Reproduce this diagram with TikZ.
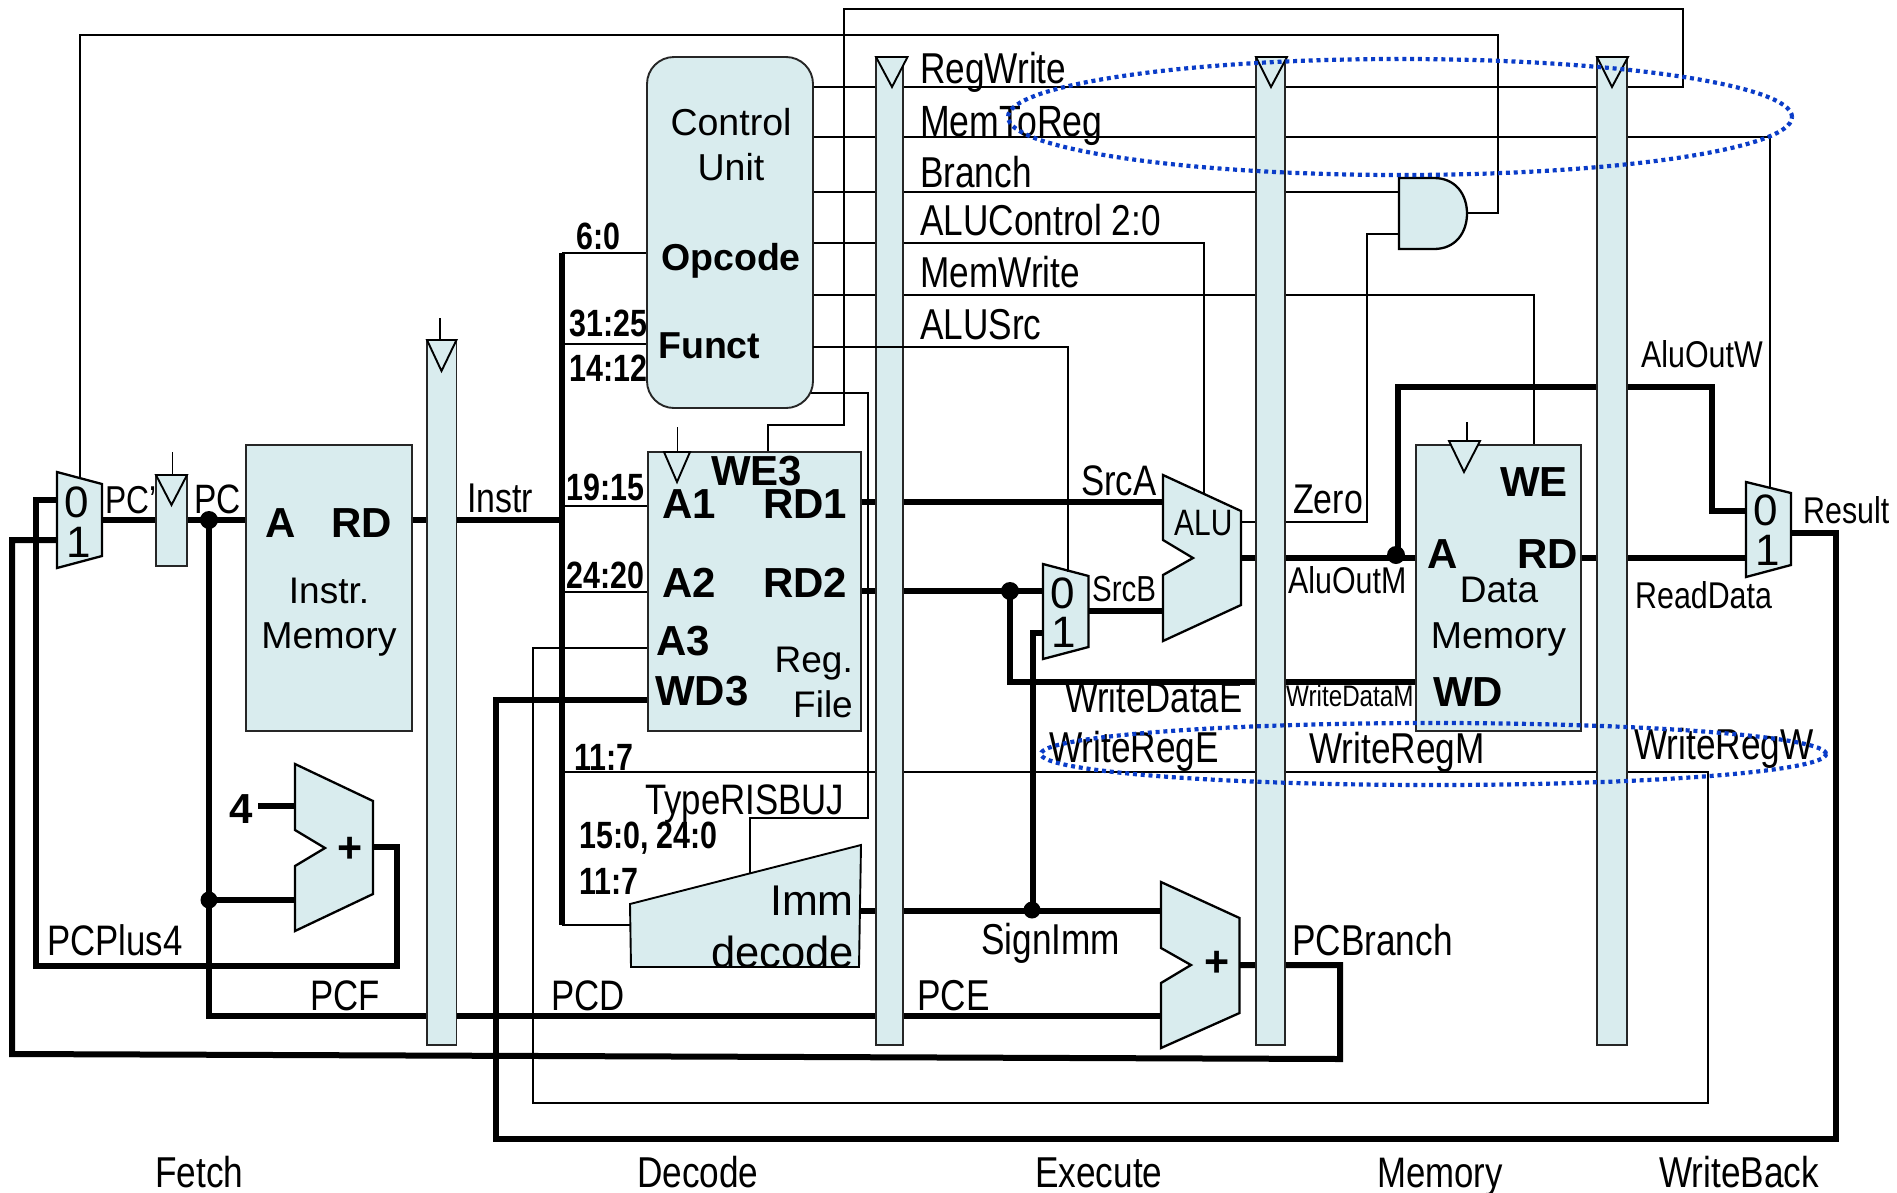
\documentclass[tikz,border=0pt]{standalone}
\usepackage{fontspec}
\setmainfont{Liberation Sans}
\newfontfamily\narrowf[FakeStretch=.815,Scale=1.08]{Liberation Sans}
\newfontfamily\bnarrowf[FakeStretch=.80]{Liberation Sans}
\usetikzlibrary{backgrounds}
\definecolor{blk}{HTML}{D9ECEE}
\definecolor{ring}{HTML}{0A3CC8}
\tikzset{
  x=1pt,y=-1pt,
  thinw/.style={draw=black,line width=1.9pt,line join=miter},
  thickw/.style={draw=black,line width=6pt,line join=miter},
  box/.style={draw=black!85,fill=blk,line width=1.9pt,inner sep=0pt,outer sep=0pt},
  poly/.style={draw=black,fill=blk,line width=2.3pt,line join=miter},
  dotj/.style={fill=black,draw=none},
  ringd/.style={draw=ring,line width=4.2pt,dash pattern=on 4pt off 3.8pt},
  nt/.style={font=\narrowf\fontsize{#1}{#1}\selectfont,anchor=base west,inner sep=0pt},
  rt/.style={font=\fontsize{#1}{#1}\selectfont,anchor=base,inner sep=0pt},
  bt/.style={font=\bfseries\fontsize{#1}{#1}\selectfont,anchor=base west,inner sep=0pt},
  bn/.style={font=\bnarrowf\bfseries\fontsize{38}{38}\selectfont,anchor=base west,inner sep=0pt},
}
\begin{document}
\begin{tikzpicture}
\useasboundingbox (0,0) rectangle (1897,1192);
% ---- named pins
\coordinate (m1in0) at (57,500);
\coordinate (m1in1) at (57,540);
\coordinate (m1out) at (102,520);
\coordinate (m1sel) at (80,479);
\coordinate (pcj) at (209,520);
\coordinate (pcbr) at (209,900);
\coordinate (pcb) at (209,1016);
\coordinate (addF1) at (295,806);
\coordinate (addF2) at (295,900);
\coordinate (addFo) at (373,847);
\coordinate (four) at (258,806);
\coordinate (addE1) at (1161,911);
\coordinate (addE2) at (1161,1016);
\coordinate (addEo) at (1240,965);
\coordinate (bus) at (562,520);
\coordinate (bust) at (562,253);
\coordinate (busb) at (562,925);
\coordinate (b344) at (562,344);
\coordinate (b506) at (562,506);
\coordinate (b592) at (562,592);
\coordinate (b772) at (562,772);
\coordinate (immo) at (861,911);
\coordinate (immi) at (630,925);
\coordinate (immt) at (750,880);
\coordinate (smi0) at (1043,591);
\coordinate (smi1) at (1043,633);
\coordinate (smo) at (1088,611);
\coordinate (smsel) at (1068,572);
\coordinate (aluA) at (1163,502);
\coordinate (aluB) at (1163,611);
\coordinate (aluC) at (1204,497);
\coordinate (aluZ) at (1241,522);
\coordinate (aluO) at (1241,558);
\coordinate (srcj) at (1010,591);
\coordinate (immj) at (1033,911);
\coordinate (aluj) at (1398,558);
\coordinate (andA) at (1399,192);
\coordinate (andB) at (1399,234);
\coordinate (andO) at (1467,213);
\coordinate (m2i0) at (1746,511);
\coordinate (m2i1) at (1746,558);
\coordinate (m2sel) at (1770,489);
\coordinate (m2o) at (1791,533);
% ---- blocks
\node[box,minimum width=166pt,minimum height=286pt] (imem) at (329,588) {};
\node[box,minimum width=213pt,minimum height=279pt] (rf) at (754.5,591.5) {};
\node[box,minimum width=165pt,minimum height=286pt] (dm) at (1498.5,588) {};
\node[box,rounded corners=27pt,minimum width=166pt,minimum height=351pt] (cu) at (730,232.5) {};
\node[box,minimum width=31pt,minimum height=91pt] (pcreg) at (171.5,520.5) {};
\node[box,minimum width=29.5pt,minimum height=705pt] (fd) at (441.7,692.5) {};
\node[box,minimum width=27pt,minimum height=988pt] (de) at (889.5,551) {};
\node[box,minimum width=29pt,minimum height=988pt] (em) at (1270.5,551) {};
\node[box,minimum width=30pt,minimum height=988pt] (mw) at (1612,551) {};
% clock triangles
\draw[poly,line width=1.9pt] (156,475) -- (187,475) -- (171.5,505) -- cycle;
\draw[poly,line width=1.9pt] (427,340) -- (456.5,340) -- (441.5,371) -- cycle;
\draw[poly,line width=1.9pt] (876,57) -- (907.5,57) -- (892,87) -- cycle;
\draw[poly,line width=1.9pt] (1256,57) -- (1287,57) -- (1271,87) -- cycle;
\draw[poly,line width=1.9pt] (1597,57) -- (1628,57) -- (1612,87) -- cycle;
\draw[poly,line width=1.9pt] (664,452) -- (690,452) -- (677,482) -- cycle;
\draw[poly,line width=1.9pt] (1449,441) -- (1480,441) -- (1464,472) -- cycle;
% muxes, ALU, adders, gate, imm
\draw[poly] (57,472) -- (102,484) -- (102,556) -- (57,568) -- cycle;
\draw[poly] (1043,564) -- (1088.5,576) -- (1088.5,647) -- (1043,659) -- cycle;
\draw[poly] (1746,482) -- (1791,493) -- (1791,565) -- (1746,577) -- cycle;
\draw[poly] (1163,475) -- (1241,511) -- (1241,605) -- (1163,641) -- (1163,575) -- (1193,558) -- (1163,540) -- cycle;
\draw[poly] (295,764) -- (373,801) -- (373,894) -- (295,931) -- (295,866) -- (325,848) -- (295,830) -- cycle;
\draw[poly] (1161,882) -- (1239.5,918) -- (1239.5,1013) -- (1161,1048) -- (1161,983) -- (1191,965) -- (1161,948) -- cycle;
\draw[poly] (1399,178) -- (1434,178) .. controls (1456,178) and (1467,195) .. (1467,213.5) .. controls (1467,232) and (1456,249) .. (1434,249) -- (1399,249) -- cycle;
\draw[poly,line width=1.9pt] (630,904) -- (861,845) -- (859,967) -- (631,967) -- cycle;
% ---- wires behind the blocks
\begin{pgfonlayer}{background}
\fill[white] (0,0) rectangle (1897,1192);
\draw[thinw,line width=2.3pt] (m1sel) -- (80,35) -- (1498,35) -- (1498,213) -- (andO);
\draw[thinw,line width=2.3pt] (cu.east |- 0,87) -- (1683,87) -- (1683,9) -- (844,9) -- (844,425) -- (768,425) -- (768,452);
\draw[thinw] (cu.east |- 0,137) -- (1770,137) -- (m2sel);
\draw[thinw] (cu.east |- 0,192) -- (andA);
\draw[thinw] (cu.east |- 0,243) -- (1204,243) -- (aluC);
\draw[thinw] (cu.east |- 0,295) -- (1534,295) -- (1534,445);
\draw[thinw] (800,393) -- (868,393) -- (868,818) -- (750,818) -- (immt);
\draw[thinw] (andB) -- (1367,234) -- (1367,522) -- (aluZ);
\draw[thinw] (bust) -- (cu.west |- bust);
\draw[thinw] (b344) -- (cu.west |- b344);
\draw[thinw] (b506) -- (rf.west |- b506);
\draw[thinw] (b592) -- (rf.west |- b592);
\draw[thinw] (busb) -- (immi);
\draw[thinw] (rf.west |- 0,648) -- (533,648) -- (533,1103) -- (1708,1103) -- (1708,772) -- (b772);
\draw[thinw] (172.5,452) -- (172.5,475);
\draw[thinw] (440,318) -- (440,340);
\draw[thinw] (677.5,427) -- (677.5,452);
\draw[thinw] (1467,422) -- (1467,441);
% thick buses
\draw[thickw] (m1out) -- (imem.west |- m1out);
\draw[thickw] (pcj) -- (pcb) -- (addE2);
\draw[thickw] (pcbr) -- (addF2);
\draw[thickw] (four) -- (addF1);
\draw[thickw] (addFo) -- (397,847) -- (397,966) -- (36,966) -- (36,500) -- (m1in0);
\draw[thickw] (addEo) -- (1340,965) -- (1340,1059) -- (12,1054) -- (12,540) -- (m1in1);
\draw[thickw] (imem.east |- bus) -- (bus);
\draw[thickw] (bust) -- (busb);
\draw[thickw] (rf.west |- 0,700) -- (496,700) -- (496,1139) -- (1836,1139) -- (1836,533) -- (m2o);
\draw[thickw] (rf.east |- aluA) -- (aluA);
\draw[thickw] (rf.east |- smi0) -- (smi0);
\draw[thickw] (srcj) -- (1010,682) -- (dm.west |- 0,682);
\draw[thickw] (smi1) -- (1033,633) -- (immj);
\draw[thickw] (smo) -- (aluB);
\draw[thickw] (immo) -- (addE1);
\draw[thickw] (aluO) -- (dm.west |- aluO);
\draw[thickw] (aluj) -- (1398,387) -- (1712,387) -- (1712,511) -- (m2i0);
\draw[thickw] (dm.east |- m2i1) -- (m2i1);
\draw[thinw] (b772) -- (de.west |- b772);
\end{pgfonlayer}
% wire running over the pipeline bar
\draw[thinw] (cu.east |- 0,347) -- (1068,347) -- (smsel);
% junction dots
\fill[dotj] (pcj) circle [radius=9pt];
\fill[dotj] (pcbr) circle [radius=8.5pt];
\fill[dotj] (srcj) circle [radius=9pt];
\fill[dotj] (1032,910) circle [radius=8.5pt];
\fill[dotj] (1396,555) circle [radius=9pt];
% ---- labels
\node[rt=44] (m1a) at (77,517) {0};
\node[rt=44] (m1b) at (79,557) {1};
\node[rt=44] (sma) at (1063,608) {0};
\node[rt=44] (smb) at (1064,647) {1};
\node[rt=44] (m2a) at (1766,525) {0};
\node[rt=44] (m2b) at (1768,565) {1};
\node[nt=36] (tpcp) at (105,513) {PC’};
\node[nt=38] (tpc) at (194,513) {PC};
\node[nt=38.5] (tinstr) at (467,512) {Instr};
\node[bt=42] (ta) at (265,537) {A};
\node[bt=42] (trd) at (331,537) {RD};
\node[rt=37] (tim1) at (329,603) {Instr.};
\node[rt=37.5] (tim2) at (329,648) {Memory};
\node[bn] (t190) at (566,500) {19:15};
\node[bn] (t240) at (566,588) {24:20};
\node[bn] (t310) at (569,336) {31:25};
\node[bn] (t140) at (569,381) {14:12};
\node[bn] (t60) at (576,249) {6:0};
\node[bn] (t117) at (574,770) {11:7};
\node[bn] (t150) at (579,848) {15:0, 24:0};
\node[bn] (t118) at (579,894) {11:7};
\node[rt=37.5] (tcu1) at (731,135) {Control};
\node[rt=37.5] (tcu2) at (731,180) {Unit};
\node[bt=37.5,anchor=base] (top) at (731,270) {Opcode};
\node[bt=37.5] (tfu) at (658,358) {Funct};
\node[bt=42] (twe3) at (711,485) {WE3};
\node[bt=42] (ta1) at (662,518) {A1};
\node[bt=42] (trd1) at (763,518) {RD1};
\node[bt=42] (ta2) at (662,597) {A2};
\node[bt=42] (trd2) at (763,597) {RD2};
\node[bt=42] (ta3) at (656,655) {A3};
\node[bt=42] (twd3) at (655,705) {WD3};
\node[rt=37,anchor=base east] (treg) at (853,672) {Reg.};
\node[rt=37,anchor=base east] (tfile) at (853,717) {File};
\node[nt=39.5] (ttype) at (645,814) {TypeRISBUJ};
\node[rt=43,anchor=base east] (timm) at (854,915) {Imm};
\node[rt=43.5,anchor=base east] (tdec) at (854,967) {decode};
\node[nt=39.5] (tplus4) at (47,955) {PCPlus4};
\node[nt=39.5] (tpcf) at (310,1010) {PCF};
\node[nt=39.5] (tpcd) at (551,1010) {PCD};
\node[nt=40] (tpce) at (917,1010) {PCE};
\node[nt=40] (tfetch) at (155,1187) {Fetch};
\node[nt=40] (tdecode) at (637,1187) {Decode};
\node[nt=40] (texec) at (1035,1187) {Execute};
\node[nt=39.5] (tmem) at (1377,1187) {Memory};
\node[nt=40] (twb) at (1659,1187) {WriteBack};
\node[nt=40] (trw) at (920,83) {RegWrite};
\node[nt=40.5] (tmr) at (920,136) {MemToReg};
\node[nt=40] (tbr) at (920,187) {Branch};
\node[nt=40] (tac) at (920,235) {ALUControl 2:0};
\node[nt=40] (tmw) at (920,287) {MemWrite};
\node[nt=40] (tas) at (920,339) {ALUSrc};
\node[nt=39.5] (tsa) at (1081,495) {SrcA};
\node[nt=33.5] (tsb) at (1092,601) {SrcB};
\node[nt=34] (talu) at (1174,535) {ALU};
\node[nt=39.5] (twde) at (1065,712) {WriteDataE};
\node[nt=40] (twre) at (1049,762) {WriteRegE};
\node[nt=38.5] (tzero) at (1293,513) {Zero};
\node[nt=34.5] (taom) at (1288,593) {AluOutM};
\node[nt=27.5] (twdm) at (1286,706) {WriteDataM};
\node[nt=40] (twrm) at (1309,763) {WriteRegM};
\node[nt=40] (tsi) at (981,954) {SignImm};
\node[nt=40] (tpcb) at (1292,955) {PCBranch};
\node[bt=42] (tda) at (1427,568) {A};
\node[bt=42] (tdrd) at (1517,568) {RD};
\node[bt=42] (tdwe) at (1500,496) {WE};
\node[bt=42] (tdwd) at (1433,706) {WD};
\node[rt=37] (tdm1) at (1499,602) {Data};
\node[rt=37.5] (tdm2) at (1498.5,648) {Memory};
\node[nt=34.5] (trdd) at (1635,608) {ReadData};
\node[nt=34.5] (tres) at (1803,523) {Result};
\node[nt=34.5] (taow) at (1641,367) {AluOutW};
\node[nt=40] (twrw) at (1634,759) {WriteRegW};
\node[bt=42] (tfour) at (229,823) {4};
\node[bt=43,anchor=center] (tpl1) at (350,850) {+};
\node[bt=43,anchor=center] (tpl2) at (1217,964) {+};
% ---- dotted rings
\draw[ringd] (1400,117) ellipse [x radius=392pt,y radius=58pt];
\draw[ringd] (1433.5,754) ellipse [x radius=392.5pt,y radius=31pt];
\end{tikzpicture}
\end{document}
